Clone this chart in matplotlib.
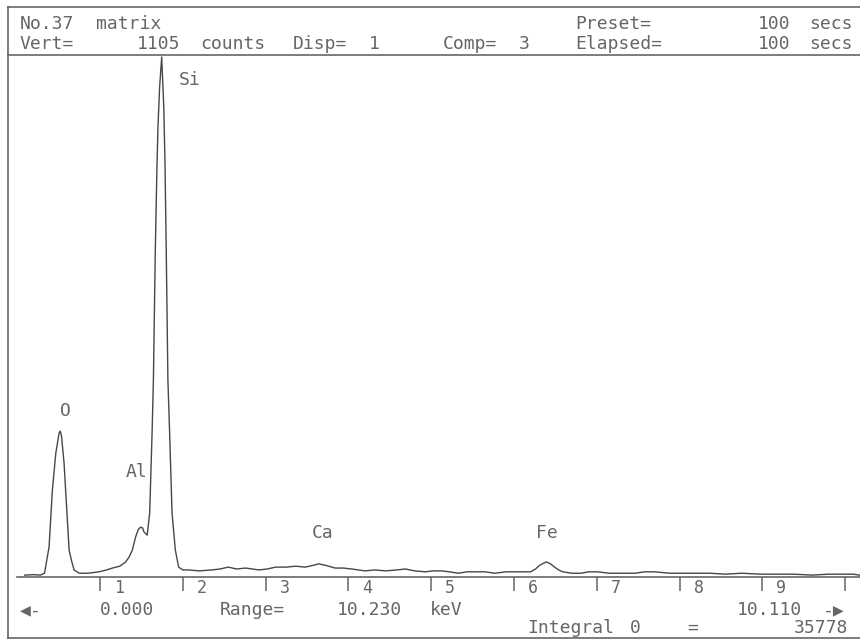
import matplotlib
matplotlib.use('Agg')
import matplotlib.pyplot as plt

# EDS spectrum (energy in keV, counts)
energy = [0.09, 0.2, 0.28, 0.33, 0.385, 0.425, 0.466, 0.506, 0.52, 0.535,
          0.566, 0.606, 0.627, 0.66, 0.687, 0.75, 0.85, 0.99, 1.08, 1.15,
          1.24, 1.31, 1.35, 1.39, 1.43, 1.46, 1.49, 1.515, 1.53, 1.57,
          1.60, 1.63, 1.645, 1.668, 1.687, 1.70, 1.72, 1.745, 1.77, 1.785,
          1.80, 1.82, 1.84, 1.87, 1.91, 1.95, 2.0, 2.07, 2.2, 2.35,
          2.45, 2.55, 2.65, 2.76, 2.92, 3.02, 3.12, 3.25, 3.36, 3.48,
          3.58, 3.64, 3.72, 3.84, 3.94, 4.04, 4.2, 4.32, 4.45, 4.58,
          4.69, 4.8, 4.93, 5.02, 5.12, 5.22, 5.33, 5.43, 5.53, 5.65,
          5.77, 5.9, 6.05, 6.2, 6.26, 6.31, 6.39, 6.44, 6.49, 6.54,
          6.59, 6.7, 6.81, 6.9, 7.01, 7.15, 7.29, 7.46, 7.58, 7.7,
          7.88, 8.06, 8.2, 8.37, 8.55, 8.75, 8.98, 9.2, 9.38, 9.6,
          9.8, 9.94, 10.1, 10.17]
counts = [4, 5, 4, 8, 64, 185, 263, 306, 310, 300,
          242, 121, 57, 32, 15, 8, 8, 11, 15, 19,
          23, 32, 42, 57, 85, 100, 106, 104, 96, 89,
          136, 312, 419, 695, 865, 956, 1041, 1105, 1000, 880,
          695, 419, 312, 136, 57, 21, 15, 15, 13, 15,
          17, 21, 17, 19, 15, 17, 21, 21, 23, 21,
          25, 28, 25, 19, 19, 17, 13, 15, 13, 15,
          17, 13, 11, 13, 13, 11, 8, 11, 11, 11,
          8, 11, 11, 11, 17, 25, 32, 28, 21, 15,
          11, 8, 8, 11, 11, 8, 8, 8, 11, 11,
          8, 8, 8, 8, 6, 8, 6, 6, 6, 4,
          6, 6, 6, 4]

# peak labels: element, energy, counts where the label sits
elements = ['O', 'Al', 'Si', 'Ca', 'Fe']
elem_x = [0.58, 1.44, 2.08, 3.69, 6.4]
elem_y = [353, 223, 1056, 93, 93]

tick_kev = [1, 2, 3, 4, 5, 6, 7, 8, 9, 10]
tick_labels = ['1', '2', '3', '4', '5', '6', '7', '8', '9', '']

full_scale = 1105
ink = '#666666'
trace = '#474747'
mono = ['DejaVu Sans Mono', 'DejaVu Sans']
pitch = 12.7  # px per character column of the printout

fig = plt.figure(figsize=(8.6, 6.41), dpi=100)

# page axes in pixel units for frame and printed text
bg = fig.add_axes([0, 0, 1, 1])
bg.set_xlim(0, 860)
bg.set_ylim(641, 0)
bg.axis('off')
bg.plot([8, 860], [7, 7], color=ink, lw=1.2)
bg.plot([8, 8], [7, 638], color=ink, lw=1.2)
bg.plot([8, 860], [638, 638], color=ink, lw=1.2)
bg.plot([8, 860], [55, 55], color=ink, lw=1.2)


def put(x, y, s, size=13):
    # place each word at its character column, like the plotter did
    col = 0
    for word in s.split(' '):
        if word:
            bg.text(x + col * pitch, y, word, family=mono, fontsize=size,
                    color=ink, va='center', ha='left')
        col += len(word) + 1


put(20, 24, 'No.37 matrix')
put(575, 24, 'Preset=')
put(758, 24, '100 secs')
put(20, 44, 'Vert=')
put(137, 44, '1105 counts')
put(293, 44, 'Disp= 1')
put(443, 44, 'Comp= 3')
put(575, 44, 'Elapsed=')
put(758, 44, '100 secs')

put(20, 610, '◀-')
put(100, 610, '0.000')
put(220, 610, 'Range=')
put(337, 610, '10.230')
put(430, 610, 'keV')
put(737, 610, '10.110')
put(823, 610, '-▶')
put(527, 628, 'Integral')
put(630, 628, '0')
put(687, 628, '=')
bg.text(848, 628, '35778', family=mono, fontsize=13, color=ink,
        va='center', ha='right')

# spectrum axes: 0 keV at px 17.2, 82.8 px per keV; 0 counts at px 577
x0_px, px_per_kev = 17.2, 82.8
ax = fig.add_axes([8 / 860, (641 - 577) / 641, 852 / 860, 520 / 641])
ax.patch.set_alpha(0)
ax.set_xlim((8 - x0_px) / px_per_kev, (860 - x0_px) / px_per_kev)
ax.set_ylim(0, full_scale)
ax.plot(energy, counts, color=trace, lw=1.0, clip_on=False)

for s in ['top', 'left', 'right']:
    ax.spines[s].set_visible(False)
ax.spines['bottom'].set_color(ink)
ax.spines['bottom'].set_linewidth(1.2)
ax.spines['bottom'].set_bounds(0, (860 - x0_px) / px_per_kev)
ax.set_yticks([])
ax.set_xticks(tick_kev)
ax.set_xticklabels([])
ax.tick_params(axis='x', direction='out', length=10, width=1.1, color=ink)
for k, lab in zip(tick_kev, tick_labels):
    ax.text(k + 0.17, -24, lab, family=mono, fontsize=12, color=ink,
            va='center', ha='left', clip_on=False)

for name, ex, ey in zip(elements, elem_x, elem_y):
    ax.text(ex, ey, name, family=mono, fontsize=13, color=ink,
            va='center', ha='center')

fig.savefig('out.png', dpi=100, facecolor='white')
